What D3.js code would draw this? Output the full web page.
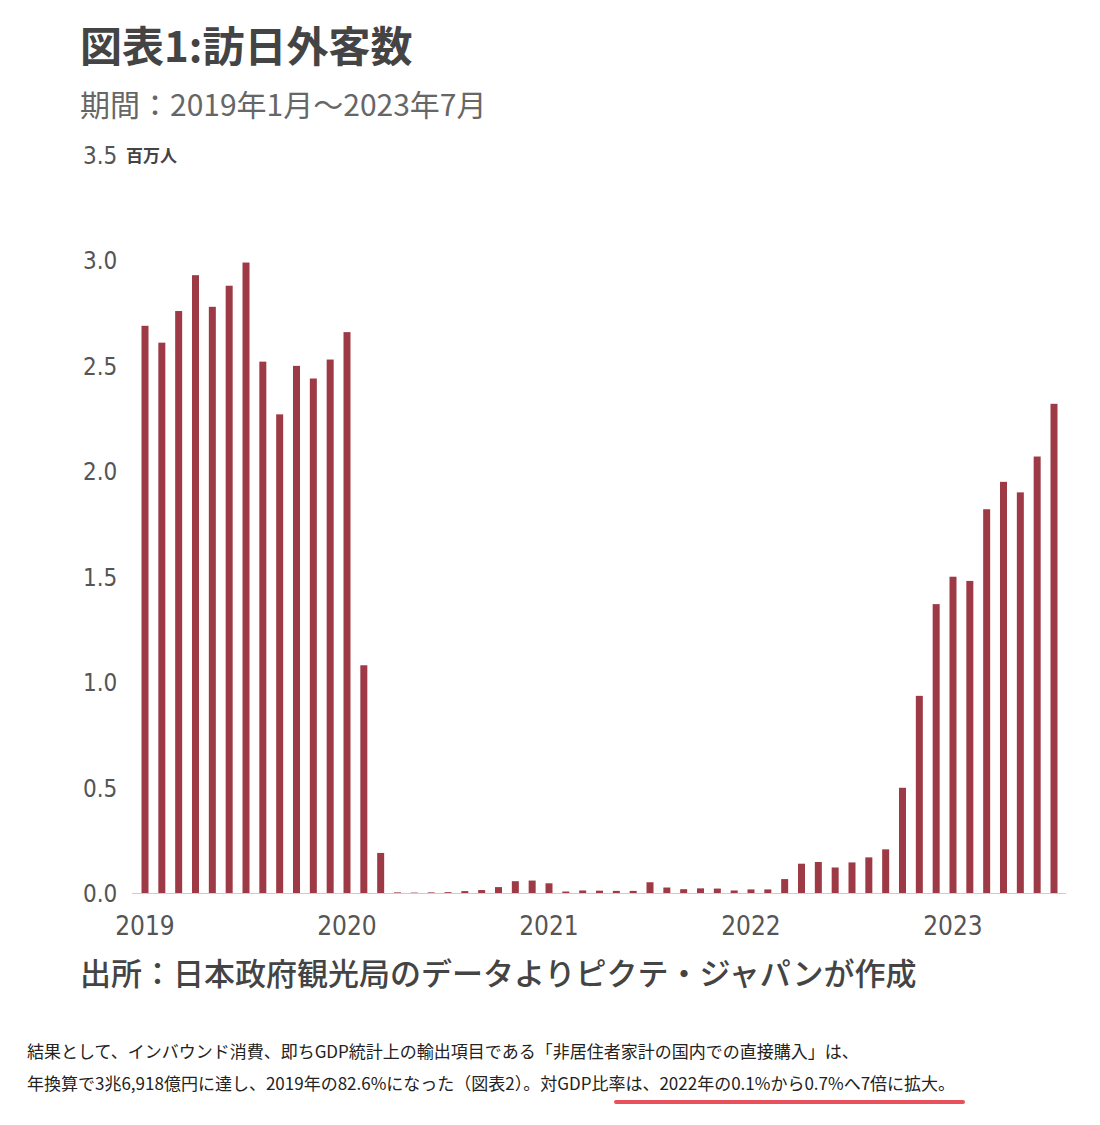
<!DOCTYPE html>
<html><head><meta charset="utf-8">
<script src="https://cdn.jsdelivr.net/npm/d3@7"></script>
<style>body{margin:0;background:#fff;font-family:"Noto Sans CJK JP","Noto Sans",sans-serif}</style>
</head><body>
<svg id="chart" width="1100" height="1125"></svg>
<script>
// monthly visitors, million people, Jan 2019 - Jul 2023
var values2019 = [2.69, 2.61, 2.76, 2.93, 2.78, 2.88, 2.99, 2.52, 2.27, 2.50, 2.44, 2.53];
var values2020 = [2.66, 1.08, 0.19, 0.003, 0.002, 0.003, 0.004, 0.009, 0.014, 0.028, 0.056, 0.059];
var values2021 = [0.046, 0.007, 0.012, 0.011, 0.010, 0.010, 0.051, 0.026, 0.018, 0.022, 0.021, 0.012];
var values2022 = [0.017, 0.017, 0.066, 0.139, 0.147, 0.121, 0.145, 0.169, 0.207, 0.499, 0.935, 1.37];
var values2023 = [1.50, 1.48, 1.82, 1.95, 1.90, 2.07, 2.32];
var yearLabels = ["2019", "2020", "2021", "2022", "2023"];
var yTicks = [0, 0.5, 1.0, 1.5, 2.0, 2.5, 3.0, 3.5];

var data = [].concat(values2019, values2020, values2021, values2022, values2023);

var svg = d3.select("#chart");
var x = d3.scaleLinear().domain([0, 54]).range([145, 1054]);
var y = d3.scaleLinear().domain([0, 3.5]).range([893, 155]);

//title
svg.append("text").attr("x", 80).attr("y", 62).attr("font-size", 42).attr("font-weight", 700)
	.attr("fill", "#444").text("図表1:訪日外客数");
svg.append("text").attr("x", 80).attr("y", 116).attr("font-size", 30)
	.attr("fill", "#666").text("期間：2019年1月～2023年7月");
svg.append("text").attr("x", 126).attr("y", 162).attr("font-size", 17).attr("font-weight", 700)
	.attr("fill", "#444").text("百万人");

//y labels
svg.selectAll(".yl").data(yTicks).enter().append("text")
	.attr("x", 83).attr("y", function(d) { return y(d) + 9; })
	.attr("font-family", "Liberation Sans Narrow, DejaVu Sans Condensed, sans-serif")
	.attr("font-size", 24).attr("fill", "#555")
	.text(function(d) { return d.toFixed(1); });

//bars
svg.selectAll("rect").data(data).enter().append("rect")
	.attr("x", function(d, i) { return x(i) - 3.5; })
	.attr("y", function(d) { return y(d); })
	.attr("width", 7)
	.attr("height", function(d) { return y(0) - y(d); })
	.attr("fill", "#9e3a45");

//x axis line
svg.append("line").attr("x1", 132).attr("x2", 1066).attr("y1", y(0) + 0.5).attr("y2", y(0) + 0.5)
	.attr("stroke", "#ccc");

svg.selectAll(".xl").data(yearLabels).enter().append("text")
	.attr("x", function(d, i) { return x(i * 12); }).attr("y", 935)
	.attr("text-anchor", "middle")
	.attr("font-family", "Liberation Sans Narrow, DejaVu Sans Condensed, sans-serif")
	.attr("font-size", 26).attr("fill", "#555").text(function(d) { return d; });

//source
svg.append("text").attr("x", 80).attr("y", 985).attr("font-size", 31).attr("font-weight", 500)
	.attr("fill", "#444").text("出所：日本政府観光局のデータよりピクテ・ジャパンが作成");

//paragraph
svg.append("text").attr("x", 27).attr("y", 1058).attr("font-size", 17).attr("fill", "#222")
	.text("結果として、インバウンド消費、即ちGDP統計上の輸出項目である「非居住者家計の国内での直接購入」は、");
svg.append("text").attr("x", 27).attr("y", 1090).attr("font-size", 17).attr("fill", "#222")
	.text("年換算で3兆6,918億円に達し、2019年の82.6%になった（図表2）。対GDP比率は、2022年の0.1%から0.7%へ7倍に拡大。");
svg.append("line").attr("x1", 616).attr("x2", 963).attr("y1", 1102).attr("y2", 1102)
	.attr("stroke", "#e8505b").attr("stroke-width", 4).attr("stroke-linecap", "round");
</script>
</body></html>
